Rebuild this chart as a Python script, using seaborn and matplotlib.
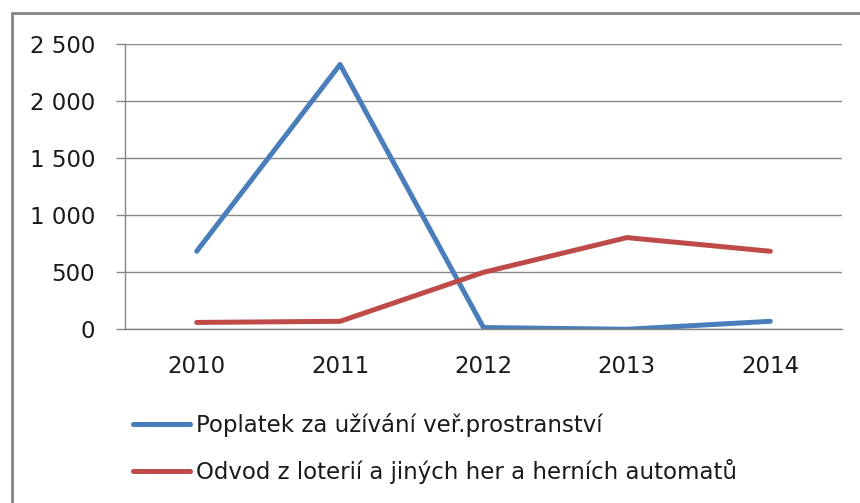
import matplotlib
matplotlib.use("Agg")
import matplotlib.pyplot as plt
import seaborn as sns
import pandas as pd
from matplotlib.lines import Line2D
from matplotlib.ticker import FuncFormatter, FixedLocator

years = ["2010", "2011", "2012", "2013", "2014"]
poplatek = [680, 2320, 10, -5, 65]
odvod = [55, 65, 495, 800, 680]
series_names = ["Poplatek za užívání veř.prostranství",
                "Odvod z loterií a jiných her a herních automatů"]
colors = ["#4A7EBB", "#BE4B48"]

df = pd.DataFrame({
    "idx": list(range(len(years))) * 2,
    "value": poplatek + odvod,
    "serie": [series_names[0]] * len(years) + [series_names[1]] * len(years),
})

sns.set_style("white")
plt.rcParams["font.family"] = ["DejaVu Sans"]

fs = 16.5
fig = plt.figure(figsize=(8.6, 5.03), dpi=100)
ax = fig.add_axes([125 / 860, 1 - 328.7 / 503, 717 / 860, (328.7 - 44) / 503])

sns.lineplot(data=df, x="idx", y="value", hue="serie", palette=colors,
             linewidth=3.6, ax=ax, legend=False, sort=False)

gray = "#868686"
ax.set_xlim(-0.5, len(years) - 0.5)
ax.set_ylim(0, 2500)
ax.set_yticks([0, 500, 1000, 1500, 2000, 2500])
ax.yaxis.set_major_formatter(FuncFormatter(lambda v, p: f"{int(v):,}".replace(",", " ")))
ax.grid(axis="y", color=gray, linewidth=1.0)
ax.set_axisbelow(True)

ax.set_xticks(range(len(years)))
ax.set_xticklabels(years)
ax.xaxis.set_minor_locator(FixedLocator([i - 0.5 for i in range(len(years) + 1)]))
ax.tick_params(axis="x", which="major", length=0, pad=19, labelsize=fs, colors="#1a1a1a")
ax.tick_params(axis="x", which="minor", length=6.5, width=1.0, color=gray, direction="out")
ax.tick_params(axis="y", which="major", length=6.5, width=1.0, color=gray, direction="out",
               pad=15, labelsize=fs, labelcolor="#1a1a1a", left=True)
ax.set_xlabel("")
ax.set_ylabel("")

for s in ["top", "right"]:
    ax.spines[s].set_visible(False)
for s in ["left", "bottom"]:
    ax.spines[s].set_color(gray)
    ax.spines[s].set_linewidth(1.0)

handles = [Line2D([0], [0], color=c, lw=3.6) for c in colors]
fig.legend(handles, series_names, loc="center left", bbox_to_anchor=(133 / 860, 1 - 448.5 / 503),
           frameon=False, fontsize=fs, handlelength=2.5, handletextpad=0.25,
           labelspacing=1.0, borderpad=0, borderaxespad=0, labelcolor="#1a1a1a")

# outer chart border (top and left visible)
fig.add_artist(Line2D([11.5 / 860, 1], [1 - 13 / 503, 1 - 13 / 503], color=gray, lw=2.0,
                      transform=fig.transFigure))
fig.add_artist(Line2D([11.5 / 860, 11.5 / 860], [0, 1 - 13 / 503], color=gray, lw=2.0,
                      transform=fig.transFigure))

fig.savefig("out.png", dpi=100)
